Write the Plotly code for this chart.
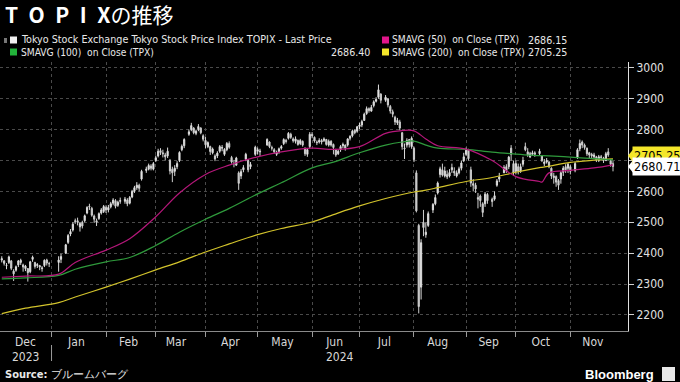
import plotly.graph_objects as go
import pandas as pd

# ---------------- data ----------------
holidays = ["2024-01-01", "2024-01-02", "2024-01-03", "2024-01-08", "2024-02-12",
            "2024-02-23", "2024-03-20", "2024-04-29", "2024-05-03", "2024-05-06",
            "2024-07-15", "2024-08-12", "2024-09-16", "2024-09-23", "2024-10-14",
            "2024-11-04"]
dates = [d for d in pd.bdate_range("2023-12-01", "2024-11-27")
         if d.strftime("%Y-%m-%d") not in holidays]

close_px = [
    # Dec 2023
    2382, 2367, 2361, 2388, 2351, 2333, 2356, 2375, 2377, 2355, 2358, 2337, 2372, 2387, 2357, 2363, 2355, 2352, 2377, 2368, 2366,
    # Jan 2024
    2378, 2389, 2427, 2457, 2470, 2494, 2503, 2500, 2496, 2488, 2521, 2548, 2550, 2523, 2510, 2500, 2528, 2540, 2551,
    # Feb
    2540, 2548, 2560, 2572, 2552, 2565, 2570, 2575, 2560, 2580, 2600, 2612, 2620, 2610, 2665, 2672, 2684, 2675, 2690,
    # Mar
    2709, 2730, 2726, 2722, 2712, 2730, 2666, 2660, 2675, 2690, 2726, 2746, 2768, 2793, 2813, 2790, 2795, 2810, 2790, 2769,
    # Apr
    2751, 2758, 2729, 2737, 2705, 2724, 2745, 2742, 2736, 2755, 2743, 2695, 2690, 2708, 2626, 2664, 2677, 2720, 2670, 2687, 2743,
    # May
    2735, 2730, 2768, 2745, 2740, 2728, 2725, 2738, 2745, 2768, 2762, 2788, 2775, 2764, 2770, 2752, 2765, 2750, 2722, 2735, 2785,
    # Jun
    2780, 2763, 2758, 2765, 2760, 2770, 2752, 2762, 2750, 2742, 2718, 2730, 2745, 2752, 2740, 2770, 2778, 2795, 2790, 2809,
    # Jul
    2815, 2826, 2850, 2868, 2862, 2872, 2890, 2898, 2929, 2895, 2905, 2880, 2860, 2850, 2825, 2830, 2805, 2745, 2740, 2765, 2752, 2772,
    # Aug
    2703, 2537, 2227, 2434, 2483, 2468, 2528, 2558, 2580, 2627, 2673, 2653, 2666, 2647, 2661, 2677, 2660, 2660, 2673, 2692, 2712,
    # Sep
    2733, 2706, 2627, 2620, 2608, 2575, 2570, 2532, 2591, 2570, 2567, 2586, 2634, 2647, 2677, 2667, 2711, 2720, 2660,
    # Oct
    2690, 2665, 2680, 2700, 2735, 2718, 2722, 2725, 2720, 2730, 2700, 2695, 2700, 2680, 2650, 2645, 2630, 2620, 2660, 2675, 2670, 2688,
    # Nov
    2665, 2690, 2735, 2755, 2750, 2742, 2722, 2718, 2715, 2718, 2702, 2712, 2710, 2700, 2722, 2718, 2688, 2680.71,
]
open_px = [
    2378, 2375, 2360, 2370, 2375, 2342, 2345, 2362, 2370, 2362, 2350, 2350, 2340, 2380, 2370, 2360, 2360, 2350, 2360, 2378, 2366,
    2370, 2380, 2400, 2435, 2462, 2475, 2505, 2505, 2485, 2500, 2505, 2530, 2552, 2545, 2520, 2505, 2512, 2530, 2535,
    2548, 2540, 2550, 2562, 2570, 2555, 2568, 2568, 2572, 2562, 2582, 2600, 2612, 2620, 2640, 2668, 2672, 2682, 2672,
    2700, 2715, 2732, 2725, 2718, 2715, 2700, 2672, 2665, 2680, 2700, 2735, 2748, 2785, 2800, 2805, 2788, 2800, 2805, 2780,
    2765, 2745, 2745, 2725, 2715, 2715, 2730, 2740, 2720, 2735, 2755, 2710, 2690, 2685, 2660, 2650, 2670, 2705, 2700, 2680, 2720,
    2730, 2728, 2750, 2760, 2742, 2735, 2720, 2728, 2740, 2755, 2765, 2772, 2785, 2770, 2762, 2765, 2755, 2762, 2740, 2720, 2745,
    2785, 2775, 2760, 2760, 2765, 2765, 2768, 2750, 2762, 2752, 2735, 2722, 2735, 2748, 2750, 2750, 2772, 2780, 2798, 2795,
    2810, 2815, 2830, 2852, 2868, 2860, 2878, 2892, 2905, 2915, 2895, 2900, 2875, 2858, 2840, 2822, 2825, 2790, 2738, 2750, 2768, 2745,
    2740, 2660, 2490, 2290, 2500, 2460, 2490, 2540, 2560, 2595, 2655, 2670, 2650, 2655, 2650, 2670, 2665, 2650, 2660, 2675, 2700,
    2720, 2735, 2670, 2625, 2620, 2580, 2585, 2560, 2560, 2590, 2575, 2575, 2620, 2640, 2660, 2680, 2680, 2740, 2690,
    2665, 2680, 2665, 2688, 2745, 2728, 2712, 2720, 2725, 2722, 2715, 2690, 2695, 2695, 2675, 2650, 2648, 2635, 2640, 2662, 2680, 2675,
    2680, 2668, 2710, 2738, 2760, 2750, 2740, 2725, 2720, 2712, 2712, 2700, 2712, 2708, 2700, 2728, 2700, 2690,
]
high_px = [
    2390, 2378, 2368, 2392, 2378, 2348, 2360, 2378, 2382, 2366, 2362, 2352, 2375, 2392, 2372, 2368, 2362, 2358, 2380, 2382, 2372,
    2390, 2398, 2430, 2462, 2478, 2500, 2512, 2515, 2500, 2505, 2525, 2552, 2560, 2550, 2525, 2512, 2532, 2546, 2556,
    2555, 2556, 2566, 2578, 2575, 2570, 2580, 2582, 2578, 2585, 2605, 2618, 2630, 2625, 2670, 2680, 2690, 2688, 2695,
    2716, 2738, 2740, 2735, 2725, 2742, 2705, 2680, 2685, 2698, 2730, 2752, 2772, 2800, 2822, 2808, 2800, 2818, 2808, 2785,
    2776, 2762, 2748, 2742, 2720, 2730, 2750, 2750, 2740, 2760, 2762, 2715, 2702, 2712, 2665, 2672, 2685, 2725, 2705, 2695, 2748,
    2742, 2738, 2772, 2762, 2748, 2740, 2732, 2742, 2750, 2772, 2770, 2792, 2790, 2775, 2778, 2768, 2770, 2765, 2742, 2740, 2792,
    2792, 2778, 2765, 2772, 2770, 2775, 2770, 2768, 2766, 2755, 2738, 2735, 2750, 2758, 2752, 2772, 2782, 2800, 2800, 2812,
    2822, 2832, 2855, 2875, 2872, 2880, 2895, 2905, 2946, 2918, 2912, 2902, 2880, 2865, 2845, 2838, 2832, 2792, 2755, 2772, 2770, 2778,
    2745, 2668, 2495, 2445, 2540, 2500, 2535, 2562, 2590, 2632, 2680, 2690, 2680, 2668, 2672, 2690, 2678, 2668, 2680, 2700, 2725,
    2742, 2738, 2680, 2640, 2628, 2595, 2590, 2565, 2598, 2595, 2580, 2600, 2640, 2660, 2685, 2688, 2715, 2750, 2700,
    2700, 2690, 2690, 2712, 2758, 2740, 2728, 2732, 2730, 2738, 2718, 2705, 2708, 2698, 2678, 2660, 2652, 2640, 2665, 2682, 2688, 2692,
    2685, 2695, 2740, 2768, 2765, 2755, 2742, 2728, 2725, 2725, 2715, 2718, 2718, 2712, 2728, 2740, 2705, 2698,
]
low_px = [
    2370, 2360, 2348, 2365, 2345, 2310, 2340, 2355, 2362, 2340, 2342, 2308, 2335, 2372, 2350, 2352, 2345, 2340, 2355, 2360, 2355,
    2340, 2368, 2398, 2430, 2455, 2470, 2495, 2490, 2470, 2480, 2500, 2526, 2540, 2518, 2498, 2488, 2508, 2525, 2530,
    2530, 2532, 2545, 2555, 2545, 2550, 2560, 2560, 2552, 2558, 2578, 2595, 2605, 2600, 2635, 2660, 2668, 2668, 2668,
    2695, 2710, 2718, 2710, 2700, 2708, 2655, 2630, 2650, 2672, 2695, 2730, 2740, 2780, 2795, 2785, 2782, 2795, 2785, 2762,
    2740, 2740, 2718, 2720, 2698, 2708, 2725, 2730, 2715, 2730, 2738, 2690, 2678, 2683, 2605, 2640, 2662, 2698, 2662, 2672, 2715,
    2720, 2715, 2748, 2740, 2732, 2722, 2715, 2722, 2735, 2750, 2755, 2768, 2770, 2758, 2755, 2748, 2750, 2745, 2715, 2712, 2740,
    2772, 2758, 2750, 2755, 2752, 2760, 2748, 2745, 2745, 2720, 2712, 2718, 2728, 2740, 2732, 2745, 2765, 2775, 2785, 2790,
    2802, 2808, 2828, 2848, 2855, 2858, 2872, 2888, 2900, 2885, 2890, 2872, 2852, 2840, 2815, 2815, 2798, 2735, 2705, 2742, 2742, 2738,
    2695, 2532, 2205, 2250, 2455, 2450, 2485, 2530, 2555, 2590, 2645, 2648, 2645, 2640, 2645, 2660, 2650, 2645, 2655, 2668, 2695,
    2715, 2700, 2615, 2600, 2595, 2545, 2550, 2517, 2550, 2560, 2550, 2570, 2615, 2630, 2660, 2660, 2672, 2700, 2650,
    2655, 2655, 2660, 2680, 2730, 2712, 2708, 2715, 2712, 2718, 2695, 2682, 2690, 2675, 2640, 2625, 2615, 2605, 2625, 2650, 2660, 2660,
    2655, 2662, 2705, 2730, 2740, 2735, 2715, 2708, 2705, 2705, 2695, 2695, 2702, 2692, 2698, 2712, 2680, 2665,
]

ma_dates = ["2023-12-01", "2023-12-15", "2024-01-04", "2024-01-15", "2024-02-01", "2024-02-15",
            "2024-03-01", "2024-03-15", "2024-04-01", "2024-04-15", "2024-05-01", "2024-05-15",
            "2024-06-03", "2024-06-14", "2024-07-01", "2024-07-16", "2024-07-25", "2024-08-01",
            "2024-08-08", "2024-08-15", "2024-09-02", "2024-09-17", "2024-10-01", "2024-10-15",
            "2024-10-16", "2024-10-21", "2024-11-01", "2024-11-15", "2024-11-27"]
sma50 = [2322, 2326, 2332, 2370, 2410, 2447, 2518, 2595, 2655, 2685, 2712, 2728,
         2740, 2736, 2745, 2788, 2797, 2796, 2770, 2748, 2737, 2700, 2648, 2632,
         2630, 2660, 2668, 2676, 2686.15]
sma100 = [2317, 2320, 2328, 2348, 2372, 2386, 2425, 2468, 2510, 2545, 2592, 2628,
          2676, 2695, 2725, 2750, 2760, 2763, 2750, 2740, 2736, 2727, 2721, 2716,
          2716, 2715, 2711, 2706, 2702]
sma200 = [2204, 2222, 2240, 2258, 2290, 2316, 2346, 2372, 2404, 2430, 2460, 2480,
          2501, 2525, 2553, 2577, 2590, 2598, 2604, 2612, 2632, 2645, 2662, 2677,
          2678, 2682, 2694, 2701, 2705.25]

month_labels = ["Dec", "Jan", "Feb", "Mar", "Apr", "May", "Jun", "Jul", "Aug", "Sep", "Oct", "Nov"]
month_label_pos = ["2023-12-15", "2024-01-15 12:00", "2024-02-14 12:00", "2024-03-13 12:00",
                   "2024-04-15 12:00", "2024-05-15 12:00", "2024-06-14 12:00", "2024-07-15 12:00",
                   "2024-08-15", "2024-09-13 12:00", "2024-10-15 12:00", "2024-11-14 12:00"]
month_starts = ["2024-01-01", "2024-02-01", "2024-03-01", "2024-04-01", "2024-05-01", "2024-06-03",
                "2024-07-01", "2024-08-01", "2024-09-02", "2024-10-01", "2024-11-01"]
y_ticks = [2200, 2300, 2400, 2500, 2600, 2700, 2800, 2900, 3000]
y_tick_text = ["2200", "2300", "2400", "2500", "2600", "", "2800", "2900", "3000"]

legend_last = "Tokyo Stock Exchange Tokyo Stock Price Index TOPIX - Last Price"
legend_50 = ("SMAVG (50)  on Close (TPX)", "2686.15")
legend_100 = ("SMAVG (100)  on Close (TPX)", "2686.40")
legend_200 = ("SMAVG (200)  on Close (TPX)", "2705.25")
last_value = 2680.71
sma200_label = 2705.25

assert len(dates) == len(close_px) == len(open_px) == len(high_px) == len(low_px)

# ---------------- figure ----------------
FONT = "'Liberation Sans Narrow', 'DejaVu Sans Condensed', 'Roboto Condensed', 'Arial Narrow', 'Liberation Sans', sans-serif"
W, H = 680, 382
ML, MR, MT, MB = 0, 52, 62, 51
PW, PH = W - ML - MR, H - MT - MB


def px(x):
    return (x - ML) / PW


def py(y):
    return (H - MB - y) / PH


MAG_LINE, GRN_LINE, YEL_LINE = "#b5177a", "#2f9a3c", "#d2c32c"

fig = go.Figure()
fig.add_trace(go.Candlestick(
    x=dates, open=open_px, high=high_px, low=low_px, close=close_px,
    increasing=dict(line=dict(color="#dcdcdc", width=1), fillcolor="#f2f2f2"),
    decreasing=dict(line=dict(color="#cfcfcf", width=1), fillcolor="#cfcfcf"),
    whiskerwidth=0, showlegend=False, hoverinfo="skip"))
fig.add_trace(go.Scatter(x=ma_dates, y=sma200, mode="lines", line=dict(color=YEL_LINE, width=1.2),
                         showlegend=False, line_shape="spline", hoverinfo="skip"))
fig.add_trace(go.Scatter(x=ma_dates, y=sma100, mode="lines", line=dict(color=GRN_LINE, width=1.2),
                         showlegend=False, line_shape="spline", hoverinfo="skip"))
fig.add_trace(go.Scatter(x=ma_dates, y=sma50, mode="lines", line=dict(color=MAG_LINE, width=1.2),
                         showlegend=False, line_shape="spline", hoverinfo="skip"))

fig.update_layout(
    width=W, height=H, margin=dict(l=ML, r=MR, t=MT, b=MB, autoexpand=False),
    paper_bgcolor="#000000", plot_bgcolor="#000000",
    font=dict(family=FONT, color="#e0e0e0", size=12),
    xaxis=dict(
        type="date", range=["2023-11-30 06:00", "2024-12-05 08:00"],
        rangebreaks=[dict(bounds=["sat", "mon"])],
        rangeslider=dict(visible=False),
        tickmode="array", tickvals=month_label_pos, ticktext=month_labels,
        ticks="", showgrid=False, zeroline=False,
        showline=True, linecolor="#8a8a8a", linewidth=1,
        tickfont=dict(size=12, color="#d8d8d8"),
        minor=dict(tickmode="array", tickvals=month_starts, ticks="outside", ticklen=5,
                   tickcolor="#9a9a9a", showgrid=True, gridcolor="#4a4a4a", griddash="dot", gridwidth=1),
    ),
    yaxis=dict(
        side="right", range=[2148, 3019], tickmode="array", tickvals=y_ticks, ticktext=y_tick_text,
        ticks="outside", ticklen=5, tickcolor="#d0d0d0",
        showgrid=True, gridcolor="#4a4a4a", griddash="dot", gridwidth=1,
        showline=True, linecolor="#e0e0e0", linewidth=1, zeroline=False,
        tickfont=dict(size=12, color="#e0e0e0"),
    ),
)

shapes = []
ann = []

# title
ann.append(dict(x=px(3), y=py(14), xref="paper", yref="paper", xanchor="left", yanchor="middle",
                text="<b>T\u2002O\u2002P\u2002I\u2002X</b>の推移", showarrow=False,
                font=dict(family="'Noto Sans CJK JP', 'Liberation Sans', sans-serif", size=21, color="#ffffff")))


def square(x0, yc, color):
    shapes.append(dict(type="rect", xref="paper", yref="paper", x0=px(x0), x1=px(x0 + 7),
                       y0=py(yc + 3.5), y1=py(yc - 3.5), fillcolor=color, line=dict(width=0)))


def label(x, yc, text, anchor="left", color="#e8e8e8", size=10.2):
    ann.append(dict(x=px(x), y=py(yc), xref="paper", yref="paper", xanchor=anchor, yanchor="middle",
                    text=text, showarrow=False, font=dict(size=size, color=color)))


square(10, 40, "#f0f0f0")
label(19, 40, legend_last, size=10.7)
square(10, 52, "#22b33a")
label(19, 52, legend_100[0])
label(372, 52, legend_100[1], anchor="right", size=10.6)
square(382, 40, "#e0168a")
label(390, 40, legend_50[0])
label(569, 40, legend_50[1], anchor="right", size=10.6)
square(382, 52, "#f4e62a")
label(390, 52, legend_200[0])
label(569, 52, legend_200[1], anchor="right", size=10.6)
shapes.append(dict(type="rect", xref="paper", yref="paper", x0=px(4), x1=px(7), y0=py(43), y1=py(38),
                   fillcolor="#777777", line=dict(width=0)))

# year labels and separator
ann.append(dict(x="2023-12-15", y=py(357), xref="x", yref="paper", text="2023", showarrow=False,
                font=dict(size=12, color="#d8d8d8"), yanchor="middle"))
ann.append(dict(x="2024-06-18 16:00", y=py(357), xref="x", yref="paper", text="2024", showarrow=False,
                font=dict(size=12, color="#d8d8d8"), yanchor="middle"))
shapes.append(dict(type="line", xref="x", yref="paper", x0="2024-01-01", x1="2024-01-01",
                   y0=py(345), y1=py(361), line=dict(color="#9a9a9a", width=1)))


def value_box(val, ycenter_val, bg, fg):
    h = 7.5 / 0.3088
    shapes.append(dict(type="path", xref="paper", yref="y",
                       path=f"M {px(628)},{ycenter_val} L {px(634)},{ycenter_val + h} L {px(634)},{ycenter_val - h} Z",
                       fillcolor=bg, line=dict(width=0)))
    ann.append(dict(x=px(632), y=ycenter_val, xref="paper", yref="y", xanchor="left", yanchor="middle",
                    text=f"{val:.2f}", showarrow=False, bgcolor=bg, borderpad=1,
                    font=dict(size=12.5, color=fg)))


value_box(sma200_label, sma200_label + 10, "#f4e62a", "#000000")
value_box(last_value, last_value, "#ffffff", "#000000")

# footer
ann.append(dict(x=px(3), y=py(374), xref="paper", yref="paper", xanchor="left", yanchor="middle",
                text="<b>Source:</b> ブルームバーグ", showarrow=False,
                font=dict(size=11, color="#e8e8e8")))
ann.append(dict(x=px(656), y=py(374), xref="paper", yref="paper", xanchor="right", yanchor="middle",
                text="<b>Bloomberg</b>", showarrow=False,
                font=dict(family="'Liberation Sans', sans-serif", size=13, color="#ffffff")))
shapes.append(dict(type="rect", xref="paper", yref="paper", x0=px(662), x1=px(675), y0=py(381), y1=py(367),
                   fillcolor="#e8e8e8", line=dict(width=0)))

fig.update_layout(shapes=shapes, annotations=ann)
fig.write_html("out.html", config={"displayModeBar": False},
               post_script="document.body.style.margin='0';document.body.style.background='#000';")
